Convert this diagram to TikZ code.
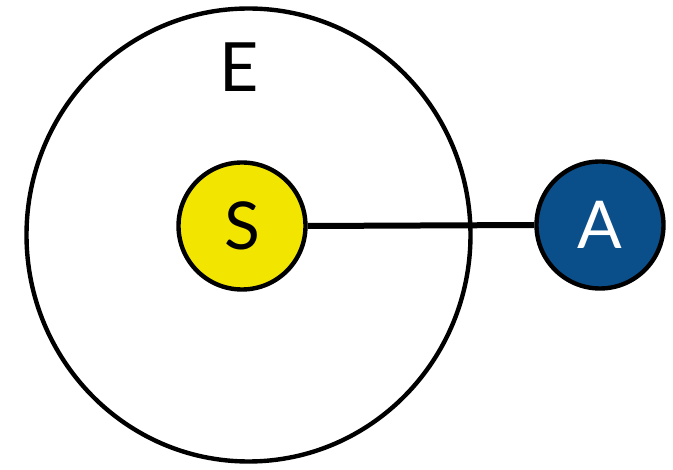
\documentclass[tikz,border=0pt]{standalone}
\usepackage{fontspec}
\setmainfont{Lato}
\definecolor{sunyellow}{HTML}{F2E600}
\definecolor{abyss}{HTML}{0B4F8A}
\begin{document}
\begin{tikzpicture}[x=1pt,y=-1pt,
  ring/.style={draw=black,line width=4.4pt},
  ball/.style={circle,draw=black,line width=4.4pt,minimum size=127pt,inner sep=0pt,font=\fontsize{66}{66}\selectfont},
  link/.style={draw=black,line width=6pt}]
\useasboundingbox (0,0) rectangle (673,470);
\draw[ring] (248.5,235) ellipse [x radius=222, y radius=226.5];
\node[font=\fontsize{68}{68}\selectfont] (E) at (239,67) {E};
\node[ball,fill=sunyellow] (S) at (242,226) {S};
\node[ball,fill=abyss,text=white] (A) at (600,225) {A};
\draw[link] (S.east) -- (A.west);
\end{tikzpicture}
\end{document}
